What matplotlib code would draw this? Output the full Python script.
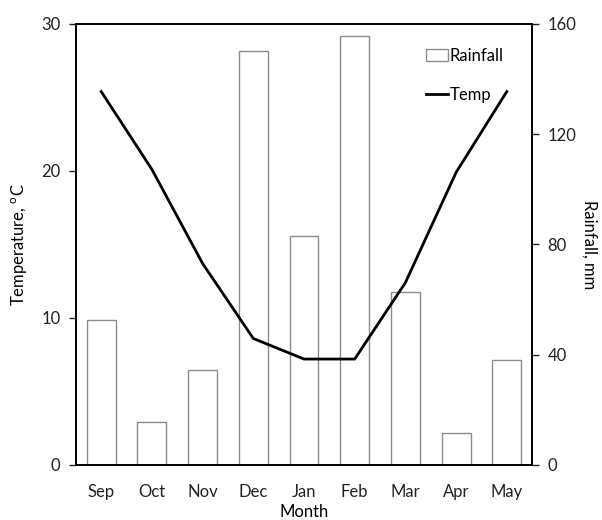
import matplotlib.pyplot as plt
import numpy as np
from matplotlib.lines import Line2D
from matplotlib.patches import Patch

# data
months = ['Sep', 'Oct', 'Nov', 'Dec', 'Jan', 'Feb', 'Mar', 'Apr', 'May']
rainfall = [52.6, 15.6, 34.3, 150.2, 83.2, 155.7, 62.7, 11.4, 38.1]
temp = [25.4, 20.1, 13.7, 8.6, 7.2, 7.2, 12.4, 19.9, 25.4]

plt.rcParams['font.family'] = ['Lato', 'DejaVu Sans']
plt.rcParams['font.size'] = 12

fig, ax = plt.subplots(figsize=(6.02, 5.20), dpi=100)
fig.subplots_adjust(left=0.126, right=0.884, top=0.954, bottom=0.106)
ax2 = ax.twinx()

x = np.arange(len(months))
ax2.bar(x, rainfall, width=0.57, facecolor='white', edgecolor='#8c8c8c', linewidth=1.0)
ax.plot(x, temp, color='black', linewidth=2)

# keep the temperature line above the bars
ax.set_zorder(2)
ax.patch.set_visible(False)

ax.set_xlim(-0.5, len(months) - 0.5)
ax.set_ylim(0, 30)
ax.set_yticks([0, 10, 20, 30])
ax2.set_ylim(0, 160)
ax2.set_yticks([0, 40, 80, 120, 160])
ax.set_xticks(x)
ax.set_xticklabels(months)

ax.tick_params(axis='x', length=0, pad=14, colors='#222222')
ax.tick_params(axis='y', direction='out', length=5, width=1, pad=6, colors='#222222')
ax2.tick_params(axis='y', direction='out', length=5, width=1, pad=6, colors='#222222')
for a in (ax, ax2):
    for s in a.spines.values():
        s.set_linewidth(1.2)
        s.set_color('black')

ax.set_ylabel('Temperature, $^\\mathregular{o}$C', labelpad=8)
ax2.set_ylabel('Rainfall, mm', rotation=-90, labelpad=15)
ax.set_xlabel('Month', labelpad=3)

handles = [Patch(facecolor='white', edgecolor='#8c8c8c', linewidth=1.0),
           Line2D([], [], color='black', linewidth=2)]
ax.legend(handles, ['Rainfall', 'Temp'], loc='upper right', frameon=False,
          bbox_to_anchor=(0.97, 0.98), labelspacing=1.4, handlelength=1.3,
          handletextpad=0.1)

plt.savefig('out.png', dpi=100)
